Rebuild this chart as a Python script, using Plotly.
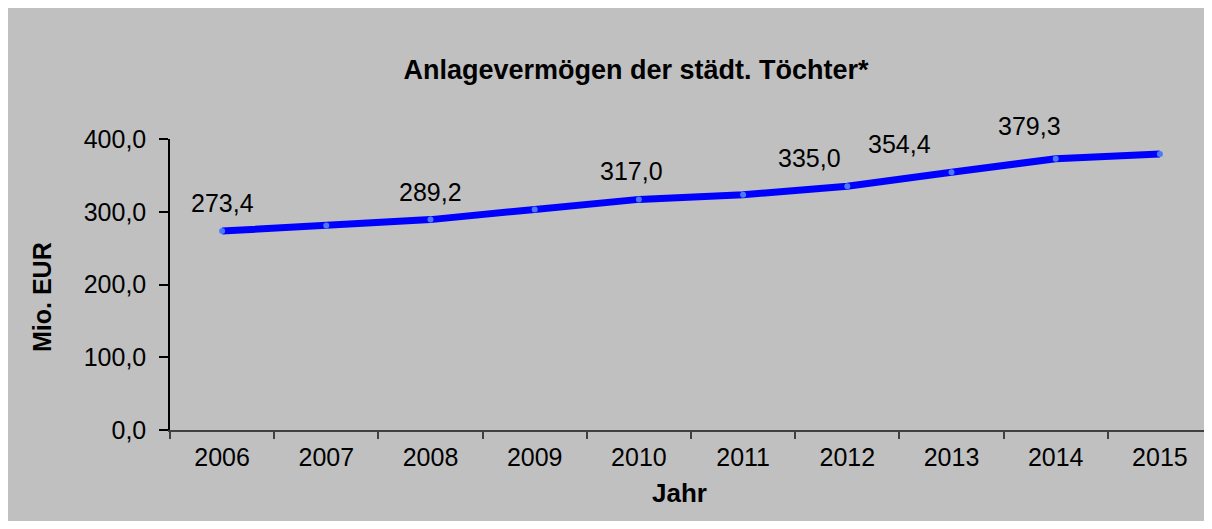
import plotly.graph_objects as go

# Data
YEARS = ['2006', '2007', '2008', '2009', '2010', '2011', '2012', '2013', '2014', '2015']
VALUES = [273.4, 281.2, 289.2, 303.2, 317.0, 323.3, 335.0, 354.4, 372.8, 379.3]
LABELED_YEARS = ['2006', '2008', '2010', '2012', '2013', '2015']

TITLE = 'Anlagevermögen der städt. Töchter*'
Y_TITLE = 'Mio. EUR'
X_TITLE = 'Jahr'

BG = '#C0C0C0'
FONT = 'Liberation Sans, Arial, sans-serif'

# horizontal nudges of the data labels (px), as in the original sheet
LABEL_XSHIFT = {'2006': 0, '2008': 0, '2010': -7, '2012': -38, '2013': -52, '2015': -130}

# the page body has an 8px margin, so the figure is drawn smaller to fit the window
OFF = 8
W, H = 1212 - OFF, 529 - 2 * OFF
ML, MR, MT, MB = 170 - OFF, 0, 139 - OFF, 99 - OFF
PW, PH = W - ML - MR, H - MT - MB


def px_x(x):
    # page pixel -> paper coords
    return (x - OFF - ML) / PW


def px_y(y):
    return (H - MB - (y - OFF)) / PH


fig = go.Figure()
fig.add_trace(go.Scatter(
    x=YEARS, y=VALUES, mode='lines+markers',
    line=dict(color='#0000FF', width=7),
    marker=dict(color='#4A78FF', size=6),
    hoverinfo='x+y', showlegend=False,
))

annotations = []
for i, (yr, val) in enumerate(zip(YEARS, VALUES)):
    if yr not in LABELED_YEARS:
        continue
    annotations.append(dict(
        x=i, y=val, xref='x', yref='y', text=f'{val:.1f}'.replace('.', ','),
        showarrow=False, yshift=28, xshift=LABEL_XSHIFT[yr],
        font=dict(family=FONT, size=25, color='black'),
        xanchor='center', yanchor='middle',
    ))

annotations.append(dict(
    x=px_x(42), y=px_y(297), xref='paper', yref='paper', text=f'<b>{Y_TITLE}</b>',
    textangle=-90, showarrow=False, xanchor='center', yanchor='middle',
    font=dict(family=FONT, size=25, color='black'),
))
annotations.append(dict(
    x=px_x(679), y=px_y(493), xref='paper', yref='paper', text=f'<b>{X_TITLE}</b>',
    showarrow=False, xanchor='center', yanchor='middle',
    font=dict(family=FONT, size=26, color='black'),
))

fig.update_layout(
    width=W, height=H,
    margin=dict(l=ML, r=MR, t=MT, b=MB, pad=0),
    paper_bgcolor=BG,
    plot_bgcolor=BG,
    separators=',.',
    font=dict(family=FONT, size=25, color='black'),
    title=dict(
        text=f'<b>{TITLE}</b>', x=(636 - OFF) / W, y=1 - (70 - OFF) / H,
        xref='container', yref='container',
        xanchor='center', yanchor='middle', font=dict(family=FONT, size=27, color='black'),
    ),
    annotations=annotations,
    xaxis=dict(
        type='category', range=[-0.5, 9.5],
        showline=True, linecolor='#404040', linewidth=1.5,
        showgrid=False, zeroline=False,
        ticks='outside', tickson='boundaries', ticklen=7, tickcolor='#404040', tickwidth=1.5,
        tickfont=dict(family=FONT, size=25, color='black'),
        ticklabelstandoff=4,
    ),
    yaxis=dict(
        range=[0, 400], dtick=100, tickformat='.1f',
        showline=True, linecolor='black', linewidth=1.5,
        showgrid=False, zeroline=False,
        ticks='outside', ticklen=9, tickcolor='black', tickwidth=1.5,
        tickfont=dict(family=FONT, size=25, color='black'),
        ticklabelstandoff=8,
    ),
)

fig.write_html('out.html')
